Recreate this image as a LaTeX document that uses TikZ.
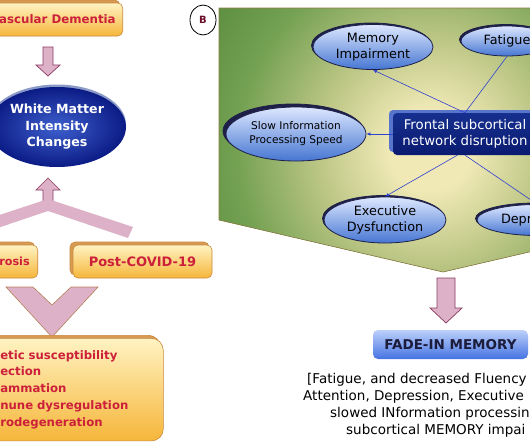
\documentclass[tikz,border=0pt]{standalone}
\usepackage{fontspec}
\setmainfont{DejaVu Sans}
\usetikzlibrary{shapes.geometric,shadows,arrows.meta}

\definecolor{orgtop}{HTML}{FFF3C2}
\definecolor{orgbot}{HTML}{F6B63A}
\definecolor{orgline}{HTML}{C98A3E}
\definecolor{orgdeep}{HTML}{D69A52}
\definecolor{redtxt}{HTML}{CC1F3A}
\definecolor{pinkfill}{HTML}{DDB2C8}
\definecolor{pinkline}{HTML}{8C3B5E}
\definecolor{chevline}{HTML}{B8805A}
\definecolor{wmdark}{HTML}{0B1B85}
\definecolor{wmlight}{HTML}{3E60CE}
\definecolor{wmrim}{HTML}{8C9AC8}
\definecolor{bubtop}{HTML}{DDE7FF}
\definecolor{bubbot}{HTML}{4676D2}
\definecolor{bubline}{HTML}{1E2048}
\definecolor{navytop}{HTML}{16308F}
\definecolor{navybot}{HTML}{0A1A70}
\definecolor{navyrim}{HTML}{5875CC}
\definecolor{linkblue}{HTML}{3040D0}
\definecolor{panelin}{HTML}{F0E9B6}
\definecolor{panelmid}{HTML}{BCC685}
\definecolor{panelout}{HTML}{74A152}
\definecolor{paneldeep}{HTML}{5E8F42}
\definecolor{panelline}{HTML}{8C7A45}
\definecolor{fadetop}{HTML}{BCD0FA}
\definecolor{fadebot}{HTML}{4573E2}
\definecolor{fadetxt}{HTML}{1B1B3A}
\definecolor{labred}{HTML}{6B0F2A}

\pgfdeclareradialshading{panelglow}{\pgfpoint{0bp}{0bp}}{%
  color(0bp)=(panelin); color(4bp)=(panelin); color(11bp)=(panelmid);
  color(19bp)=(panelout); color(25bp)=(paneldeep); color(50bp)=(paneldeep)}

\begin{document}
\begin{tikzpicture}[
  x=1pt,
  y=-1pt,
  orgbox/.style={draw=orgline, line width=0.6pt, rounded corners=5pt,
    top color=orgtop, bottom color=orgbot, text=redtxt,
    copy shadow={shadow xshift=-3pt, shadow yshift=3pt, fill=orgdeep, draw=orgline}},
  pinkarrow/.style={fill=pinkfill, draw=pinkline, line width=0.7pt, line join=miter},
  bubble/.style={ellipse, inner sep=0pt, draw=bubline, line width=0.8pt,
    top color=bubtop, bottom color=bubbot, align=center,
    font=\fontsize{12.8}{16}\selectfont,
    copy shadow={shadow xshift=-1.5pt, shadow yshift=1.5pt, fill=bubline, draw=bubline}},
  link/.style={draw=linkblue, line width=0.6pt},
  tip/.style={-{Latex[length=4pt,width=3.5pt]}},
  note/.style={anchor=base west, inner sep=0pt, font=\fontsize{13.5}{16}\selectfont}
]
\clip (0,0) rectangle (530,442);
\fill[white] (0,0) rectangle (530,442);

% panel A
\node[orgbox, anchor=east, inner xsep=7pt, minimum height=33pt,
  font=\bfseries\fontsize{11.8}{14}\selectfont] (vasc) at (123,19.5) {ascular Dementia};
\draw[pinkarrow] (43,47) -- (53,47) -- (53,65) -- (60,65) -- (48,76) -- (36,65) -- (43,65) -- cycle;

\node[ellipse, inner sep=0pt, minimum width=138pt, minimum height=80pt,
  inner color=wmlight, outer color=wmdark, text=white, align=center,
  font=\bfseries\fontsize{12.6}{16.5}\selectfont,
  copy shadow={shadow xshift=0pt, shadow yshift=2.5pt, fill=wmrim, draw=none}]
  (wmic) at (57,127) {White Matter\\Intensity\\Changes};

\draw[pinkarrow] (48,178) -- (60,190) -- (53,190) -- (53,202) -- (43,202) -- (43,190) -- (36,190) -- cycle;
\fill[pinkfill] (48,199) -- (133,227) -- (128,238) -- (48,211) -- (-32,238) -- (-37,227) -- cycle;

\node[orgbox, anchor=east, inner xsep=8pt, minimum height=33pt,
  font=\bfseries\fontsize{11.2}{13}\selectfont] (athero) at (38,261.5) {rosis};
\node[orgbox, minimum width=139pt, minimum height=33pt,
  font=\bfseries\fontsize{13}{15}\selectfont] (covid) at (142.5,261.5) {Post-COVID-19};

\draw[fill=pinkfill, draw=chevline, line width=0.6pt] (6,287) -- (33,287) -- (52,305) -- (71,287)
  -- (98,287) -- (52,337) -- cycle;

\node[orgbox, anchor=north west, inner xsep=20pt, inner ysep=12pt, text width=143pt,
  rounded corners=12pt, align=left, font=\bfseries\fontsize{11.7}{16.8}\selectfont]
  (risk) at (-20,338) {etic susceptibility\\ection\\ammation\\nune dysregulation\\rodegeneration\\ };

% panel B
\node[ellipse, draw=black, line width=0.8pt, inner sep=0pt, minimum width=26pt, minimum height=30pt,
  text=labred, font=\bfseries\fontsize{10}{12}\selectfont] (blab) at (203,20) {B};

\begin{scope}
  \clip (219,8) -- (667,8) -- (667,220) -- (443,272) -- (219,220) -- cycle;
  \fill[paneldeep] (219,8) rectangle (667,272);
  \shade[shading=panelglow] (430,150) circle (255);
\end{scope}
\draw[panelline, line width=0.6pt] (219,8) -- (667,8) -- (667,220) -- (443,272) -- (219,220) -- cycle;

\node[bubble, minimum width=120pt, minimum height=45pt] (mem) at (373,47) {Memory\\Impairment};
\node[bubble, minimum width=92pt, minimum height=30pt] (fat) at (507,41) {Fatigue};
\node[bubble, minimum width=140pt, minimum height=54pt, font=\fontsize{10.6}{14}\selectfont,
  double copy shadow={shadow xshift=-1.5pt, shadow yshift=1.5pt, fill=bubline, draw=bubline}]
  (slow) at (296,134) {Slow Information\\Processing Speed};
\node[bubble, minimum width=122pt, minimum height=46pt] (exec) at (385,220) {Executive\\Dysfunction};
\node[bubble, minimum width=120pt, minimum height=31pt, text width=72pt, align=left] (dep) at (537,220) {Depr};

\node[rectangle, rounded corners=4pt, minimum width=144pt, minimum height=42pt, align=center,
  top color=navytop, bottom color=navybot, text=white, font=\fontsize{13.3}{16.5}\selectfont,
  copy shadow={shadow xshift=-4pt, shadow yshift=3pt, fill=navyrim, draw=none}]
  (front) at (465,134) {Frontal subcortical\\network disruption};

\draw[link, tip] (front.north) -- (mem.south);
\draw[link] (front.north) -- (fat.south);
\draw[link, tip] (front.west) -- (slow.east);
\draw[link, tip] (front.250) -- (exec.north);
\draw[link, tip] (front.south) -- (dep.north);

\draw[pinkarrow] (437,278) -- (455,278) -- (455,308) -- (462,308) -- (446,323) -- (430,308) -- (437,308) -- cycle;

\node[rectangle, rounded corners=5pt, minimum width=155pt, minimum height=29pt,
  top color=fadetop, bottom color=fadebot, text=fadetxt,
  font=\bfseries\fontsize{13.5}{16}\selectfont] (fade) at (450.5,344.5) {FADE-IN MEMORY};

\node[note] (note1) at (307,383) {[Fatigue, and decreased Fluency};
\node[note] (note2) at (303,400) {Attention, Depression, Executive};
\node[note] (note3) at (330,417) {slowed INformation processin};
\node[note] (note4) at (346,434) {subcortical MEMORY impai};
\end{tikzpicture}
\end{document}
